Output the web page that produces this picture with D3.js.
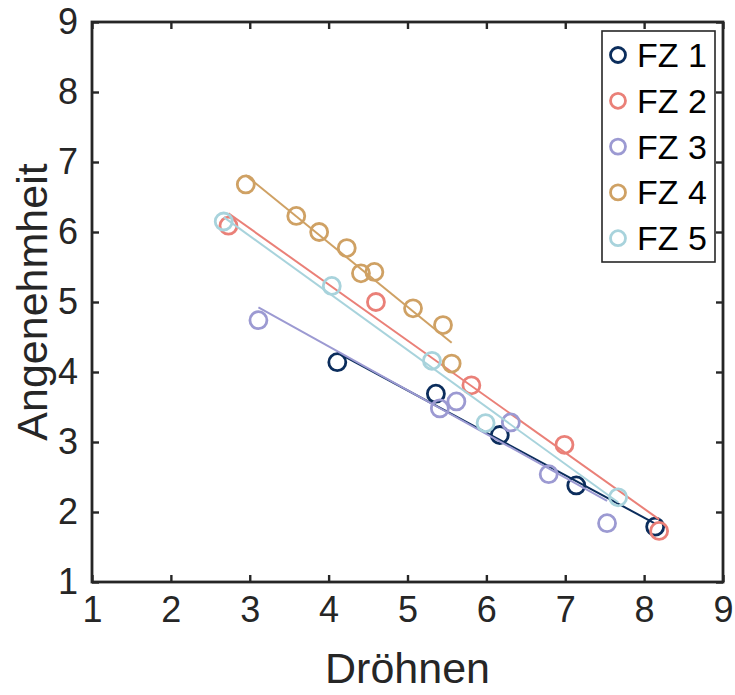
<!DOCTYPE html>
<html>
<head>
<meta charset="utf-8">
<script src="https://cdn.jsdelivr.net/npm/d3@7"></script>
<style>
html,body{margin:0;padding:0;background:#fff;}
svg{display:block;font-family:"Liberation Sans",Arial,Helvetica,sans-serif;}
</style>
</head>
<body>
<svg id="chart" width="735" height="695"></svg>
<script>
const seriesNames = ["FZ 1", "FZ 2", "FZ 3", "FZ 4", "FZ 5"];
const seriesColors = ["#0b2d5c", "#ea8078", "#9c9ad2", "#cfa164", "#a8d3dc"];

const fz1X = [4.11, 5.36, 6.17, 7.14, 8.14];
const fz1Y = [4.14, 3.69, 3.10, 2.38, 1.79];

const fz2X = [2.73, 4.60, 5.81, 6.99, 8.19];
const fz2Y = [6.09, 5.00, 3.81, 2.96, 1.73];

const fz3X = [3.11, 5.41, 5.62, 6.31, 6.79, 7.53];
const fz3Y = [4.74, 3.48, 3.58, 3.28, 2.54, 1.84];

const fz4X = [2.95, 3.59, 3.88, 4.23, 4.41, 4.58, 5.07, 5.45, 5.56];
const fz4Y = [6.68, 6.23, 6.00, 5.77, 5.41, 5.43, 4.91, 4.67, 4.12];

const fz5X = [2.67, 4.04, 5.31, 5.99, 7.67];
const fz5Y = [6.15, 5.23, 4.16, 3.27, 2.21];

const xTicks = [1, 2, 3, 4, 5, 6, 7, 8, 9];
const yTicks = [1, 2, 3, 4, 5, 6, 7, 8, 9];
const xLabel = "Dröhnen";
const yLabel = "Angenehmheit";

const seriesX = [fz1X, fz2X, fz3X, fz4X, fz5X];
const seriesY = [fz1Y, fz2Y, fz3Y, fz4Y, fz5Y];

const svg = d3.select("#chart");
const L = 92, R = 723, T = 22, B = 582;
const x = d3.scaleLinear().domain([1, 9]).range([L, R]);
const y = d3.scaleLinear().domain([1, 9]).range([B, T]);
const axisColor = "#262626";

// least squares fit
function fit(xs, ys) {
  const mx = d3.mean(xs), my = d3.mean(ys);
  let sxy = 0, sxx = 0;
  xs.forEach((v, i) => { sxy += (v - mx) * (ys[i] - my); sxx += (v - mx) * (v - mx); });
  const b = sxy / sxx, a = my - b * mx;
  const x0 = d3.min(xs), x1 = d3.max(xs);
  return [[x0, a + b * x0], [x1, a + b * x1]];
}

const lineGen = d3.line().x(d => x(d[0])).y(d => y(d[1]));
const plot = svg.append("g");

seriesNames.forEach((name, i) => {
  const pts = seriesX[i].map((v, j) => [v, seriesY[i][j]]);
  const g = plot.append("g");
  g.selectAll("circle").data(pts).enter().append("circle")
    .attr("cx", d => x(d[0])).attr("cy", d => y(d[1]))
    .attr("r", 8.5)
    .attr("fill", "none")
    .attr("stroke", seriesColors[i])
    .attr("stroke-width", 2.8);
  g.append("path")
    .attr("d", lineGen(fit(seriesX[i], seriesY[i])))
    .attr("fill", "none")
    .attr("stroke", seriesColors[i])
    .attr("stroke-width", 2);
});

// Axes (box with inward ticks on all sides)
const tickLen = 7;
const axG = svg.append("g");
axG.append("g").attr("transform", `translate(0,${B})`)
  .call(d3.axisBottom(x).tickValues(xTicks).tickSize(-tickLen).tickPadding(14).tickFormat(d3.format("d")));
axG.append("g").attr("transform", `translate(0,${T})`)
  .call(d3.axisTop(x).tickValues(xTicks).tickSize(-tickLen).tickFormat(""));
axG.append("g").attr("transform", `translate(${L},0)`)
  .call(d3.axisLeft(y).tickValues(yTicks).tickSize(-tickLen).tickPadding(14).tickFormat(d3.format("d")));
axG.append("g").attr("transform", `translate(${R},0)`)
  .call(d3.axisRight(y).tickValues(yTicks).tickSize(-tickLen).tickFormat(""));
axG.selectAll(".domain").remove();
axG.selectAll(".tick line").attr("stroke", axisColor).attr("stroke-width", 2.4);
axG.selectAll(".tick text").attr("fill", axisColor).style("font-size", "36px")
  .style("font-family", '"Liberation Sans",Arial,sans-serif');
axG.append("rect").attr("x", L).attr("y", T).attr("width", R - L).attr("height", B - T)
  .attr("fill", "none").attr("stroke", axisColor).attr("stroke-width", 2.8);

// Axis labels
svg.append("text").attr("x", (L + R) / 2).attr("y", 683)
  .attr("text-anchor", "middle").attr("fill", axisColor)
  .style("font-size", "43px").text(xLabel);
svg.append("text").attr("transform", `translate(47,${(T + B) / 2}) rotate(-90)`)
  .attr("text-anchor", "middle").attr("fill", axisColor)
  .style("font-size", "43px").text(yLabel);

// Legend
const lg = svg.append("g");
lg.append("rect").attr("x", 602).attr("y", 31).attr("width", 113).attr("height", 231)
  .attr("fill", "#fff").attr("stroke", axisColor).attr("stroke-width", 1.6);
seriesNames.forEach((name, i) => {
  const cy = 55 + i * 45.8;
  lg.append("circle").attr("cx", 618).attr("cy", cy).attr("r", 7.5)
    .attr("fill", "none").attr("stroke", seriesColors[i]).attr("stroke-width", 2.8);
  lg.append("text").attr("x", 637).attr("y", cy + 12).attr("fill", "#000")
    .style("font-size", "34px").text(name);
});
</script>
</body>
</html>
